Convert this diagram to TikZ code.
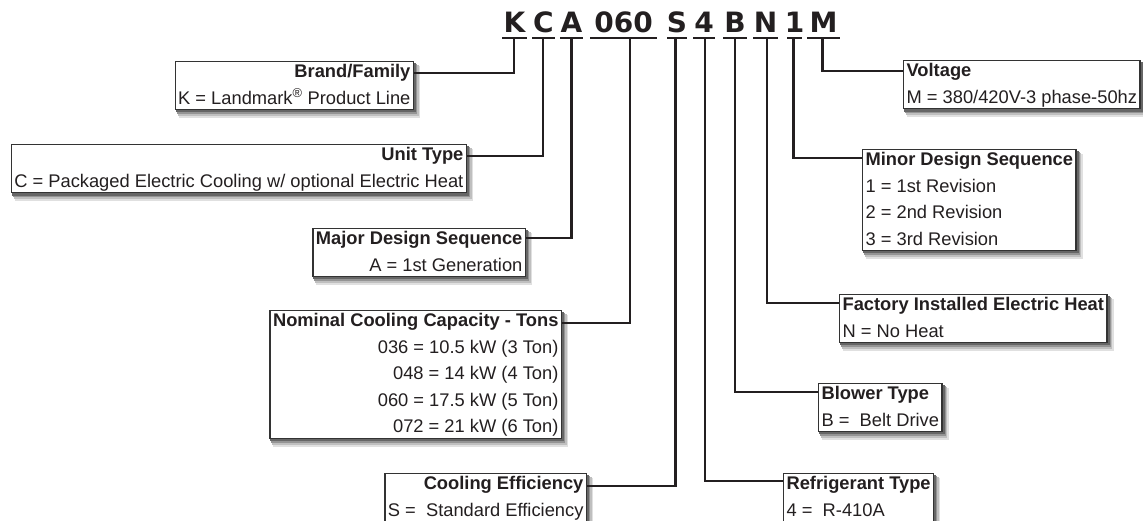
\documentclass[tikz,border=0pt]{standalone}
\usepackage{fontspec}
\setmainfont{Liberation Sans}
\newfontfamily\titlefont{DejaVu Sans}
\definecolor{ink}{HTML}{231F20}
\definecolor{frame}{HTML}{333333}
\newcommand\mytop{\rule{0pt}{14pt}}
\newcommand\mybot{\rule[-3.5pt]{0pt}{3.5pt}}
\pgfdeclarelayer{bg}
\pgfdeclarelayer{shade}
\pgfsetlayers{bg,shade,main}
\begin{document}
\begin{tikzpicture}[x=1pt,y=-1pt,
  box/.style={draw=frame, line width=1.2pt, fill=white, text=ink,
    inner xsep=3pt, inner ysep=2pt,
    font=\fontsize{18.3}{26.5}\selectfont},
  lbox/.style={box, anchor=north east, align=right},
  rbox/.style={box, anchor=north west, align=left},
  conn/.style={draw=ink, line width=2.5pt},
  uline/.style={draw=ink, line width=1.6pt},
  letter/.style={text=ink, anchor=base, inner sep=0pt,
    font=\titlefont\bfseries\fontsize{28}{28}\selectfont}]
\begin{pgfonlayer}{bg}
\fill[white] (0,0) rectangle (1143,521);
\end{pgfonlayer}
\useasboundingbox (0,0) rectangle (1143,521);

% title letters
\node[letter] (lK) at (514.5,33) {K};
\node[letter] (lC) at (543.5,33) {C};
\node[letter] (lA) at (571.5,33) {A};
\node[letter] (l060) at (623.5,33) {060};
\node[letter] (lS) at (677,33) {S};
\node[letter] (l4) at (704,33) {4};
\node[letter] (lB) at (735,33) {B};
\node[letter] (lN) at (765.5,33) {N};
\node[letter] (l1) at (794.5,33) {1};
\node[letter] (lM) at (823.5,33) {M};

% underlines
\draw[uline] (502,38) -- (527,38);
\draw[uline] (532,38) -- (555,38);
\draw[uline] (560,38) -- (583,38);
\draw[uline] (590,38) -- (657,38);
\draw[uline] (667,38) -- (687,38);
\draw[uline] (693,38) -- (715,38);
\draw[uline] (723,38) -- (747,38);
\draw[uline] (753,38) -- (778,38);
\draw[uline] (787,38) -- (802,38);
\draw[uline] (807,38) -- (840,38);

% tick coordinates
\coordinate (tK) at (514,38);
\coordinate (tC) at (543,38);
\coordinate (tA) at (571.5,38);
\coordinate (t060) at (630,38);
\coordinate (tS) at (675.5,38);
\coordinate (t4) at (705,38);
\coordinate (tB) at (735,38);
\coordinate (tN) at (767,38);
\coordinate (t1) at (793.5,38);
\coordinate (tM) at (822.5,38);

% left boxes
\node[lbox] (brand) at (414,61) {\mytop\textbf{Brand/Family}\\K = Landmark\textsuperscript{®} Product Line\mybot};
\node[lbox] (unit) at (467,144) {\mytop\textbf{Unit Type}\\C = Packaged Electric Cooling w/ optional Electric Heat\mybot};
\node[lbox] (major) at (526,228) {\mytop\textbf{Major Design Sequence}\\A = 1st Generation\mybot};
\node[lbox] (nominal) at (562,310) {\mytop\textbf{Nominal Cooling Capacity - Tons}\\036 = 10.5 kW (3 Ton)\\048 = 14 kW (4 Ton)\\060 = 17.5 kW (5 Ton)\\072 = 21 kW (6 Ton)\mybot};
\node[lbox] (cooleff) at (587,473) {\mytop\textbf{Cooling Efficiency}\\S = \ Standard Efficiency\mybot};

% right boxes
\node[rbox] (voltage) at (903,60) {\mytop\textbf{Voltage}\\M = 380/420V-3 phase-50hz\mybot};
\node[rbox] (minor) at (862,149) {\mytop\textbf{Minor Design Sequence}\\1 = 1st Revision\\2 = 2nd Revision\\3 = 3rd Revision\mybot};
\node[rbox] (factory) at (839,294) {\mytop\textbf{Factory Installed Electric Heat}\\N = No Heat\mybot};
\node[rbox] (blower) at (818,383) {\mytop\textbf{Blower Type}\\B = \ Belt Drive\mybot};
\node[rbox] (refrig) at (783,473) {\mytop\textbf{Refrigerant Type}\\4 = \ R-410A\mybot};

% soft shadows
\begin{pgfonlayer}{shade}
\foreach \b in {brand,unit,major,nominal,cooleff,voltage,minor,factory,blower,refrig}{
  \fill[black!12] ([xshift=4pt,yshift=-5pt]\b.north west) rectangle ([xshift=6pt,yshift=-8pt]\b.south east);
  \fill[black!25] ([xshift=3pt,yshift=-4pt]\b.north west) rectangle ([xshift=4.5pt,yshift=-6pt]\b.south east);
  \fill[black!42] ([xshift=2pt,yshift=-3pt]\b.north west) rectangle ([xshift=3.2pt,yshift=-4pt]\b.south east);
  \fill[black!60] ([xshift=1pt,yshift=-2pt]\b.north west) rectangle ([xshift=2pt,yshift=-2.2pt]\b.south east);
}
\end{pgfonlayer}

% connectors
\draw[conn] (tK) |- ([yshift=-12pt]brand.north east);
\draw[conn] (tC) |- ([yshift=-12pt]unit.north east);
\draw[conn] (tA) |- ([yshift=-10pt]major.north east);
\draw[conn] (t060) |- ([yshift=-13pt]nominal.north east);
\draw[conn] (tS) |- ([yshift=-13pt]cooleff.north east);
\draw[conn] (tM) |- ([yshift=-11pt]voltage.north west);
\draw[conn] (t1) |- ([yshift=-9pt]minor.north west);
\draw[conn] (tN) |- ([yshift=-9pt]factory.north west);
\draw[conn] (tB) |- ([yshift=-9pt]blower.north west);
\draw[conn] (t4) |- ([yshift=-8pt]refrig.north west);
\end{tikzpicture}
\end{document}
